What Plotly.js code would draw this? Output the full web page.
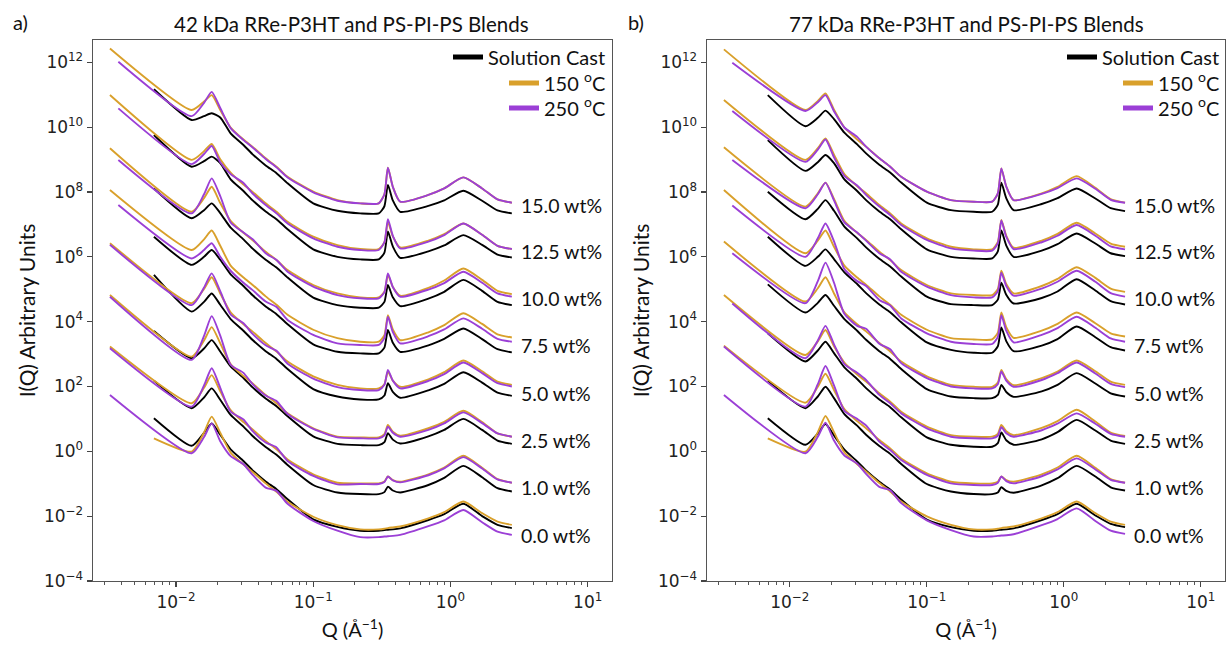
<!DOCTYPE html>
<html>
<head>
<meta charset="utf-8">
<script src="https://cdn.plot.ly/plotly-3.0.1.min.js"></script>
<style>html,body{margin:0;padding:0;background:#fff}#chart{width:1226px;height:648px}</style>
</head>
<body>
<div id="chart"></div>
<script>
const n = null;
// Q grid (1/Angstrom)
const Q = [0.0033, 0.0038, 0.0069, 0.013, 0.016, 0.0182, 0.021, 0.025, 0.031, 0.036, 0.045, 0.054, 0.065, 0.10, 0.15, 0.22, 0.30, 0.33, 0.35, 0.38, 0.43, 0.69, 0.90, 1.24, 1.7, 2.2, 2.8];
const groupLabels = ['0.0 wt%', '1.0 wt%', '2.5 wt%', '5.0 wt%', '7.5 wt%', '10.0 wt%', '12.5 wt%', '15.0 wt%'];
const seriesNames = ['Solution Cast', '150 <sup>o</sup>C', '250 <sup>o</sup>C'];
const panelTitles = ['42 kDa RRe-P3HT and PS-PI-PS Blends', '77 kDa RRe-P3HT and PS-PI-PS Blends'];
const panelTags = ['a)', 'b)'];

// values are log10 of I(Q), one row per blend (0.0 ... 15.0 wt%)
// ---- panel a: 42 kDa ----
const a_cast = [
 [n,n,1.02,0.17,0.57,0.86,0.51,0.06,-0.30,-0.58,-0.93,-1.17,-1.48,-2.10,-2.33,-2.45,-2.45,-2.43,-2.42,-2.41,-2.38,-2.12,-1.94,-1.62,-2.00,-2.27,-2.37],
 [n,n,2.18,1.33,1.66,1.94,1.59,1.12,0.76,0.48,0.13,-0.11,-0.42,-1.04,-1.27,-1.32,-1.32,-1.26,-1.09,-1.21,-1.27,-1.04,-0.82,-0.45,-0.80,-1.14,-1.24],
 [n,n,3.71,2.87,3.17,3.43,3.08,2.62,2.26,1.98,1.63,1.39,1.08,0.46,0.23,0.19,0.19,0.28,0.56,0.36,0.24,0.46,0.66,1.00,0.66,0.33,0.23],
 [n,n,5.44,4.31,4.61,4.87,4.52,4.08,3.72,3.44,3.09,2.85,2.54,1.92,1.69,1.60,1.60,1.72,2.10,1.83,1.65,1.88,2.08,2.44,2.12,1.81,1.71],
 [n,n,6.62,5.75,6.00,6.21,5.91,5.46,5.10,4.82,4.47,4.23,3.92,3.30,3.07,3.02,3.02,3.20,3.74,3.35,3.07,3.27,3.47,3.79,3.46,3.15,3.05],
 [n,n,8.11,7.19,7.44,7.65,7.35,6.90,6.54,6.26,5.91,5.67,5.36,4.74,4.51,4.43,4.43,4.61,5.13,4.75,4.48,4.71,4.92,5.29,4.95,4.61,4.51],
 [n,n,9.76,8.78,8.95,9.09,8.89,8.39,8.03,7.75,7.40,7.16,6.85,6.23,6.00,5.92,5.92,6.13,6.78,6.32,5.97,6.17,6.35,6.67,6.37,6.07,5.98],
 [n,n,11.17,10.22,10.34,10.43,10.30,9.81,9.45,9.17,8.82,8.58,8.27,7.65,7.42,7.34,7.34,7.56,8.22,7.74,7.39,7.57,7.74,8.04,7.73,7.43,7.34]
];
const a_150 = [
 [n,n,0.40,-0.01,0.58,1.07,0.57,-0.04,-0.41,-0.63,-0.99,-1.25,-1.56,-2.02,-2.28,-2.41,-2.41,-2.39,-2.37,-2.35,-2.32,-2.07,-1.88,-1.55,-1.91,-2.17,-2.27],
 [3.23,n,n,1.48,1.96,2.35,1.85,1.27,0.90,0.68,0.32,0.06,-0.25,-0.71,-0.97,-0.99,-0.99,-0.93,-0.78,-0.89,-0.94,-0.71,-0.50,-0.14,-0.51,-0.86,-0.97],
 [4.82,n,n,2.92,3.42,3.83,3.33,2.69,2.32,2.10,1.74,1.48,1.17,0.71,0.45,0.43,0.43,0.53,0.81,0.60,0.48,0.71,0.91,1.25,0.90,0.55,0.45],
 [6.42,n,n,4.57,5.01,5.37,4.87,4.29,3.92,3.70,3.34,3.08,2.77,2.31,2.05,1.94,1.94,2.07,2.46,2.18,1.99,2.22,2.44,2.80,2.47,2.15,2.05],
 [8.06,n,n,6.21,6.54,6.81,6.34,5.73,5.36,5.14,4.78,4.52,4.21,3.75,3.49,3.38,3.38,3.58,4.20,3.76,3.43,3.67,3.89,4.26,3.93,3.61,3.51],
 [9.35,n,n,7.39,7.81,8.16,7.66,7.11,6.74,6.52,6.16,5.90,5.59,5.13,4.87,4.75,4.75,4.92,5.44,5.07,4.80,5.04,5.27,5.64,5.29,4.95,4.85],
 [10.99,n,n,8.99,9.26,9.48,9.01,8.60,8.23,8.01,7.65,7.39,7.08,6.62,6.36,6.24,6.24,6.45,7.08,6.63,6.29,6.50,6.70,7.03,6.68,6.34,6.24],
 [12.43,n,n,10.53,10.79,10.99,10.53,9.99,9.62,9.40,9.04,8.78,8.47,8.01,7.75,7.65,7.65,7.93,8.75,8.16,7.70,7.91,8.11,8.45,8.11,7.77,7.67]
];
const a_250 = [
 [1.74,n,n,-0.06,0.44,0.86,0.31,-0.15,-0.40,-0.72,-1.12,-1.22,-1.62,-2.15,-2.45,-2.65,-2.65,-2.63,-2.62,-2.61,-2.58,-2.31,-2.13,-1.81,-2.19,-2.48,-2.58],
 [3.18,n,n,1.38,2.03,2.56,1.96,1.22,0.98,0.63,0.27,0.12,-0.30,-0.76,-1.02,-1.01,-1.01,-0.95,-0.78,-0.90,-0.96,-0.74,-0.53,-0.18,-0.53,-0.87,-0.97],
 [4.77,n,n,2.82,3.56,4.17,3.57,2.67,2.42,2.08,1.72,1.55,1.15,0.69,0.43,0.40,0.40,0.49,0.76,0.57,0.45,0.66,0.86,1.20,0.87,0.55,0.45],
 [6.37,n,n,4.51,5.05,5.49,4.94,4.22,3.95,3.63,3.27,3.10,2.70,2.24,1.98,1.89,1.89,2.05,2.51,2.18,1.94,2.17,2.38,2.74,2.41,2.10,2.00],
 [n,7.60,n,5.95,6.21,6.42,6.00,5.57,5.20,4.98,4.62,4.45,4.05,3.59,3.33,3.28,3.28,3.50,4.15,3.68,3.33,3.55,3.76,4.10,3.78,3.47,3.38],
 [n,8.99,n,7.34,7.93,8.42,7.87,7.06,6.75,6.55,6.11,5.90,5.54,5.08,4.82,4.72,4.72,4.91,5.49,5.07,4.77,4.99,5.19,5.54,5.20,4.87,4.77],
 [n,10.58,n,8.86,9.17,9.42,8.92,8.55,8.28,7.96,7.60,7.34,7.03,6.57,6.31,6.21,6.21,6.45,7.16,6.65,6.26,6.47,6.67,7.03,6.68,6.34,6.24],
 [n,12.02,n,10.34,10.75,11.09,10.59,9.97,9.60,9.38,9.02,8.76,8.45,7.99,7.73,7.65,7.65,7.93,8.75,8.16,7.70,7.91,8.11,8.45,8.11,7.77,7.67]
];
// ---- panel b: 77 kDa ----
const b_cast = [
 [n,n,1.02,0.20,0.55,0.84,0.49,0.05,-0.31,-0.59,-0.94,-1.18,-1.49,-2.11,-2.34,-2.45,-2.45,-2.43,-2.42,-2.41,-2.38,-2.12,-1.94,-1.62,-1.98,-2.24,-2.34],
 [n,n,2.18,1.33,1.69,1.99,1.64,1.15,0.79,0.51,0.16,-0.08,-0.39,-1.01,-1.24,-1.32,-1.32,-1.27,-1.11,-1.22,-1.28,-1.05,-0.83,-0.45,-0.78,-1.11,-1.21],
 [n,n,3.64,2.77,3.11,3.38,3.03,2.59,2.23,1.95,1.60,1.36,1.05,0.43,0.20,0.14,0.14,0.25,0.58,0.34,0.20,0.37,0.59,0.97,0.64,0.33,0.23],
 [n,n,5.15,4.28,4.58,4.82,4.49,4.08,3.72,3.44,3.09,2.85,2.54,1.92,1.69,1.64,1.64,1.74,2.05,1.83,1.68,1.85,2.05,2.41,2.09,1.79,1.69],
 [n,n,6.62,5.72,6.00,6.23,5.93,5.52,5.16,4.88,4.53,4.29,3.98,3.36,3.13,3.04,3.04,3.24,3.82,3.40,3.09,3.26,3.46,3.85,3.52,3.21,3.11],
 [n,n,8.01,7.16,7.48,7.75,7.42,6.93,6.57,6.29,5.94,5.70,5.39,4.77,4.54,4.51,4.51,4.68,5.20,4.83,4.56,4.73,4.93,5.31,4.96,4.63,4.53],
 [n,n,9.60,8.65,8.92,9.14,8.89,8.39,8.03,7.75,7.40,7.16,6.85,6.23,6.00,5.95,5.95,6.17,6.81,6.35,6.00,6.19,6.39,6.72,6.41,6.11,6.02],
 [n,n,10.99,10.03,10.29,10.51,10.25,9.83,9.47,9.19,8.84,8.60,8.29,7.67,7.44,7.39,7.39,7.61,8.29,7.81,7.44,7.63,7.81,8.11,7.80,7.50,7.41]
];
const b_150 = [
 [n,n,0.40,-0.01,0.59,1.09,0.59,-0.03,-0.40,-0.62,-0.98,-1.24,-1.55,-2.01,-2.27,-2.41,-2.41,-2.39,-2.37,-2.35,-2.32,-2.07,-1.88,-1.55,-1.91,-2.17,-2.27],
 [3.26,n,n,1.50,1.99,2.39,1.89,1.30,0.93,0.71,0.35,0.09,-0.22,-0.68,-0.94,-0.99,-0.99,-0.94,-0.78,-0.89,-0.94,-0.71,-0.50,-0.14,-0.51,-0.86,-0.97],
 [4.82,n,n,2.97,3.39,3.74,3.24,2.74,2.37,2.15,1.79,1.53,1.22,0.76,0.50,0.45,0.45,0.54,0.81,0.62,0.50,0.72,0.93,1.28,0.92,0.58,0.47],
 [6.47,n,n,4.62,5.03,5.37,4.87,4.29,3.92,3.70,3.34,3.08,2.77,2.31,2.05,1.99,1.99,2.12,2.51,2.23,2.04,2.26,2.46,2.80,2.47,2.15,2.05],
 [8.06,n,n,6.11,6.50,6.81,6.31,5.73,5.36,5.14,4.78,4.52,4.21,3.75,3.49,3.45,3.45,3.66,4.28,3.83,3.50,3.72,3.93,4.28,3.95,3.64,3.54],
 [9.38,n,n,7.55,7.96,8.29,7.79,7.11,6.74,6.52,6.16,5.90,5.59,5.13,4.87,4.82,4.82,5.01,5.57,5.16,4.87,5.10,5.32,5.68,5.35,5.02,4.92],
 [10.84,n,n,8.99,9.35,9.65,9.15,8.55,8.18,7.96,7.60,7.34,7.03,6.57,6.31,6.23,6.23,6.46,7.14,6.65,6.28,6.50,6.71,7.05,6.72,6.41,6.31],
 [12.40,n,n,10.53,10.81,11.04,10.54,9.99,9.62,9.40,9.04,8.78,8.47,8.01,7.75,7.70,7.70,7.96,8.73,8.17,7.75,7.96,8.16,8.49,8.13,7.78,7.67]
];
const b_250 = [
 [1.74,n,n,-0.06,0.45,0.88,0.33,-0.13,-0.38,-0.70,-1.10,-1.20,-1.60,-2.13,-2.43,-2.63,-2.63,-2.61,-2.60,-2.59,-2.56,-2.28,-2.09,-1.76,-2.15,-2.45,-2.55],
 [3.23,n,n,1.38,2.07,2.63,2.03,1.25,1.00,0.80,0.30,0.04,-0.27,-0.73,-0.99,-1.04,-1.04,-0.97,-0.78,-0.92,-0.99,-0.77,-0.56,-0.22,-0.56,-0.88,-0.97],
 [n,4.56,n,2.87,3.42,3.87,3.30,2.69,2.42,2.20,1.74,1.48,1.17,0.71,0.45,0.40,0.40,0.48,0.74,0.56,0.45,0.65,0.85,1.17,0.85,0.54,0.45],
 [n,6.11,n,4.57,5.25,5.82,5.20,4.24,3.87,3.78,3.32,3.15,2.72,2.26,2.00,1.94,1.94,2.07,2.46,2.18,1.99,2.20,2.41,2.74,2.40,2.08,1.98],
 [n,7.58,n,6.00,6.57,7.03,6.48,5.62,5.25,5.10,4.67,4.50,4.10,3.64,3.38,3.31,3.31,3.53,4.20,3.72,3.36,3.59,3.80,4.15,3.81,3.48,3.38],
 [n,8.99,n,7.50,7.93,8.29,7.74,7.06,6.75,6.50,6.11,5.92,5.54,5.08,4.82,4.75,4.75,4.94,5.51,5.10,4.80,5.02,5.23,5.57,5.23,4.88,4.77],
 [n,10.50,n,8.93,9.31,9.62,9.07,8.50,8.20,7.91,7.55,7.29,6.98,6.52,6.26,6.19,6.19,6.42,7.12,6.62,6.24,6.45,6.65,6.98,6.65,6.32,6.23],
 [n,11.99,n,10.50,10.77,10.99,10.49,9.99,9.70,9.40,9.04,8.78,8.47,8.01,7.75,7.70,7.70,7.96,8.73,8.17,7.75,7.94,8.12,8.42,8.10,7.76,7.67]
];

// ---------- styling / layout (not data) ----------
const colors = ['#000000', '#D9A02B', '#9B3FD6'];
const labelFont = 'Lato, "Open Sans", sans-serif';
const tickFont = {family: '"DejaVu Sans", sans-serif', size: 17, color: '#222'};
const labelLogY = [-2.60, -1.12, 0.33, 1.78, 3.25, 4.72, 6.15, 7.57];
const labelLogX = 0.50;
const legendRowY = [57, 83, 108];           // px from top, one legend row per series
const legendRight = [611, 1225];           // px, right edge of legend rows per panel

const traces = [];
function addPanel(sets, xa, ya, p) {
  for (let g = 0; g < groupLabels.length; g++) {
    sets.forEach((set, s) => {
      traces.push({
        x: Q,
        y: set[g].map(v => v === null ? null : Math.pow(10, v)),
        mode: 'lines', connectgaps: true,
        line: {color: colors[s], width: 1.9, shape: 'spline', smoothing: 0.6},
        xaxis: xa, yaxis: ya, showlegend: false, hoverinfo: 'skip',
        name: seriesNames[s] + ' ' + groupLabels[g]
      });
    });
  }
  seriesNames.forEach((nm, s) => {
    const idx = p * 3 + s + 1;
    traces.push({
      x: [null], y: [null], mode: 'lines', name: nm,
      line: {color: colors[s], width: 5},
      xaxis: xa, yaxis: ya, showlegend: true,
      legend: idx === 1 ? 'legend' : 'legend' + idx
    });
  });
}
addPanel([a_cast, a_150, a_250], 'x', 'y', 0);
addPanel([b_cast, b_150, b_250], 'x2', 'y2', 1);

const sup = e => '10<sup>' + (e < 0 ? '\u2212' + (-e) : e) + '</sup>';
const xMajor = [-2, -1, 0, 1];
const yMajor = [-4, -2, 0, 2, 4, 6, 8, 10, 12];

function xAxis(domain) {
  return {
    type: 'log', domain: domain, range: [-2.605, 1.177], automargin: false,
    tickmode: 'array', tickvals: xMajor.map(e => Math.pow(10, e)), ticktext: xMajor.map(sup),
    ticks: 'outside', ticklen: 5, tickwidth: 1.2, tickcolor: '#444',
    minor: {dtick: 'D1', ticks: 'outside', ticklen: 3, tickwidth: 1, tickcolor: '#555', showgrid: false},
    showline: true, linecolor: '#555', linewidth: 1.4, mirror: true,
    showgrid: false, zeroline: false, tickfont: tickFont,
    title: {text: 'Q (\u00C5<sup>\u22121</sup>)', font: {family: labelFont, size: 20, color: '#111'}, standoff: 12}
  };
}
function yAxis(anchor) {
  return {
    type: 'log', domain: [0.1034, 0.9383], range: [-4.002, 12.69], anchor: anchor, automargin: false,
    tickmode: 'array', tickvals: yMajor.map(e => Math.pow(10, e)), ticktext: yMajor.map(sup),
    ticks: 'outside', ticklen: 5, tickwidth: 1.2, tickcolor: '#444',
    showline: true, linecolor: '#555', linewidth: 1.4, mirror: true,
    showgrid: false, zeroline: false, tickfont: tickFont,
    title: {text: 'I(Q) Arbitrary Units', font: {family: labelFont, size: 21, color: '#111'}, standoff: 2}
  };
}

const annotations = [];
[['x', 'y'], ['x2', 'y2']].forEach(([xa, ya], p) => {
  groupLabels.forEach((lab, g) => {
    annotations.push({xref: xa, yref: ya, x: labelLogX, y: labelLogY[g], text: lab, showarrow: false,
      xanchor: 'left', yanchor: 'middle', font: {family: labelFont, size: 19.5, color: '#111'}});
  });
});
const titleX = [352 / 1226, 966 / 1226];
const tagX = [20 / 1226, 636 / 1226];
panelTitles.forEach((t, p) => {
  annotations.push({xref: 'paper', yref: 'paper', x: titleX[p], y: 1 - 24 / 648, text: t, showarrow: false,
    xanchor: 'center', yanchor: 'middle', font: {family: labelFont, size: 20.5, color: '#111'}});
  annotations.push({xref: 'paper', yref: 'paper', x: tagX[p], y: 1 - 22 / 648, text: panelTags[p], showarrow: false,
    xanchor: 'center', yanchor: 'middle', font: {family: labelFont, size: 20, color: '#111'}});
});

const layout = {
  width: 1226, height: 648,
  margin: {l: 0, r: 0, t: 0, b: 0},
  paper_bgcolor: '#fff', plot_bgcolor: '#fff',
  xaxis: Object.assign(xAxis([93 / 1226, 612 / 1226]), {anchor: 'y'}),
  yaxis: yAxis('x'),
  xaxis2: Object.assign(xAxis([707 / 1226, 1225 / 1226]), {anchor: 'y2'}),
  yaxis2: yAxis('x2'),
  annotations: annotations,
  showlegend: true
};
for (let p = 0; p < 2; p++) {
  for (let s = 0; s < 3; s++) {
    const idx = p * 3 + s + 1;
    layout[idx === 1 ? 'legend' : 'legend' + idx] = {
      x: legendRight[p] / 1226, xanchor: 'right',
      y: 1 - legendRowY[s] / 648, yanchor: 'middle',
      bgcolor: 'rgba(0,0,0,0)', borderwidth: 0, itemwidth: 30,
      font: {family: labelFont, size: 20, color: '#111'}
    };
  }
}

Plotly.newPlot('chart', traces, layout, {staticPlot: true, displayModeBar: false});
</script>
</body>
</html>
